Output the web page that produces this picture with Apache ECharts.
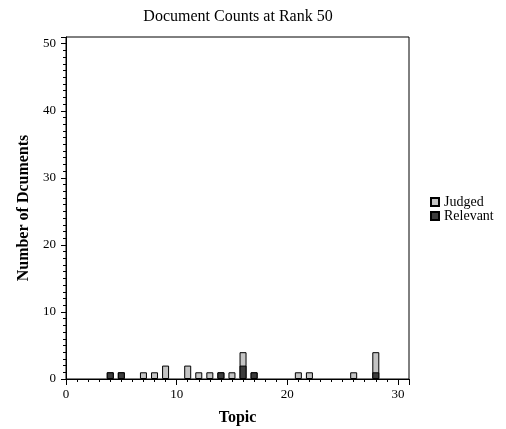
<!DOCTYPE html>
<html>
<head>
<meta charset="utf-8">
<script src="https://cdn.jsdelivr.net/npm/echarts@6/dist/echarts.min.js"></script>
<style>html,body{margin:0;padding:0;background:#fff}#c{width:506px;height:429px}</style>
</head>
<body>
<div id="c"></div>
<script>
var judgedTopics = [4, 5, 7, 8, 9, 11, 12, 13, 14, 15, 16, 17, 21, 22, 26, 28];
var judgedCounts = [1, 1, 1, 1, 2, 2, 1, 1, 1, 1, 4, 1, 1, 1, 1, 4];
var relevantTopics = [4, 5, 14, 16, 17, 28];
var relevantCounts = [1, 1, 1, 2, 1, 1];
var xTicks = [0, 10, 20, 30];
var yTicks = [0, 10, 20, 30, 40, 50];

var font = 'Liberation Serif';
function pairs(xs, ys) { return xs.map(function (x, i) { return [x, ys[i]]; }); }

var chart = echarts.init(document.getElementById('c'));
chart.setOption({
  animation: false,
  backgroundColor: '#fff',
  title: {
    text: 'Document Counts at Rank 50',
    left: 233, top: 4, textAlign: 'center',
    textStyle: { fontFamily: font, fontSize: 16, fontWeight: 'normal', color: '#000' }
  },
  grid: { left: 66, right: 97, top: 37, bottom: 50, show: true, borderColor: '#000', borderWidth: 1,
    backgroundColor: 'transparent', containLabel: false, outerBoundsMode: 'none' },
  legend: {
    orient: 'vertical', left: 425, top: 190, itemWidth: 8, itemHeight: 8, itemGap: 0,
    textStyle: { fontFamily: font, fontSize: 14, color: '#000' },
    data: [
      { name: 'Judged', icon: 'rect' },
      { name: 'Relevant', icon: 'rect' }
    ]
  },
  xAxis: {
    type: 'value', min: 0, max: 31, interval: 10,
    name: 'Topic', nameLocation: 'middle', nameGap: 31,
    nameTextStyle: { fontFamily: font, fontSize: 16, fontWeight: 'bold', color: '#000' },
    axisLine: { lineStyle: { color: '#000', width: 1 } },
    axisTick: { length: 6, lineStyle: { color: '#000' } },
    minorTick: { show: true, splitNumber: 10, length: 3, lineStyle: { color: '#000' } },
    axisLabel: { fontFamily: font, fontSize: 13, color: '#000', margin: 9, showMaxLabel: false,
      formatter: function (v) { return xTicks.indexOf(v) >= 0 ? String(v) : ''; } },
    splitLine: { show: false }
  },
  yAxis: {
    type: 'value', min: 0, max: 51, interval: 10,
    name: 'Number of Dcuments', nameLocation: 'middle', nameGap: 34,
    nameTextStyle: { fontFamily: font, fontSize: 16, fontWeight: 'bold', color: '#000' },
    axisLine: { show: true, lineStyle: { color: '#000', width: 1 } },
    axisTick: { show: true, length: 5, lineStyle: { color: '#000' } },
    minorTick: { show: true, splitNumber: 10, length: 3, lineStyle: { color: '#000' } },
    axisLabel: { fontFamily: font, fontSize: 13, color: '#000', margin: 10, showMaxLabel: false,
      formatter: function (v) { return yTicks.indexOf(v) >= 0 ? String(v) : ''; } },
    splitLine: { show: false }
  },
  series: [
    {
      name: 'Judged', type: 'bar', barWidth: 7, barGap: '-100%',
      itemStyle: { color: '#c4c4c4', borderColor: '#000', borderWidth: 1 },
      data: pairs(judgedTopics, judgedCounts)
    },
    {
      name: 'Relevant', type: 'bar', barWidth: 7, barGap: '-100%',
      itemStyle: { color: '#3c3c3c', borderColor: '#000', borderWidth: 1 },
      data: pairs(relevantTopics, relevantCounts)
    }
  ]
});
</script>
</body>
</html>
